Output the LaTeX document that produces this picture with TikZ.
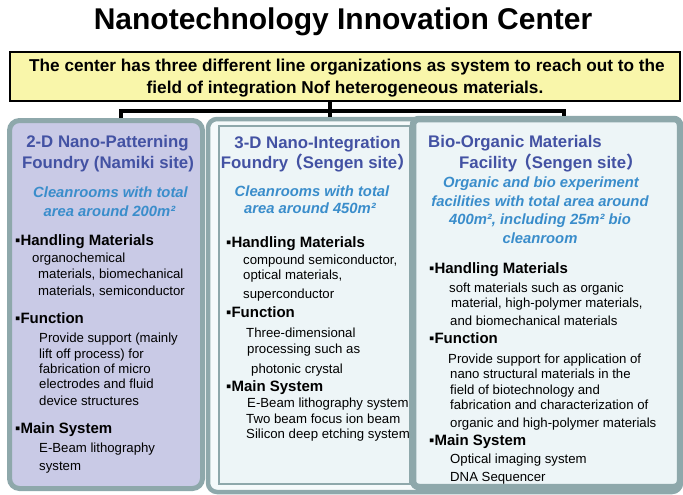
\documentclass[tikz,border=0pt]{standalone}
\usepackage{fontspec}
\setmainfont{Liberation Sans}
\newfontfamily\cjk{Noto Sans CJK JP}
\definecolor{teal}{HTML}{8EA8AB}
\definecolor{lav}{HTML}{C9CAE6}
\definecolor{lite}{HTML}{EDF5F7}
\definecolor{outfill}{HTML}{F5FAFB}
\definecolor{hblue}{HTML}{4352A3}
\definecolor{iblue}{HTML}{3A8DCB}
\definecolor{yel}{HTML}{F9F6AA}
\begin{document}
\begin{tikzpicture}[x=1pt,y=-1pt,
  titletext/.style={anchor=base,inner sep=0,font=\bfseries\fontsize{30}{33}\selectfont},
  introtext/.style={anchor=base,inner sep=0,font=\bfseries\fontsize{17.2}{20}\selectfont},
  head/.style={anchor=base,inner sep=0,text=hblue,font=\bfseries\fontsize{16.8}{20}\selectfont},
  headw/.style={head,anchor=base west},
  area/.style={anchor=base,inner sep=0,text=iblue,font=\bfseries\itshape\fontsize{14.8}{18}\selectfont},
  sec/.style={anchor=base west,inner sep=0,font=\bfseries\fontsize{15}{18}\selectfont},
  body/.style={anchor=base west,inner sep=0,font=\fontsize{13.2}{16}\selectfont},
  bus/.style={draw=black,line width=4pt},
  panel/.style={rectangle,draw=teal,inner sep=0}
]
\useasboundingbox (0,0) rectangle (683,495);

\node[titletext] (title) at (343,30) {Nanotechnology Innovation Center};

\node[rectangle,draw=black,line width=2.5pt,fill=yel,minimum width=670pt,minimum height=49pt,inner sep=0] (intro) at (345,76.5) {};
\node[introtext] (it1) at (347,72) {The center has three different line organizations as system to reach out to the};
\node[introtext] (it2) at (345,93) {field of integration Nof heterogeneous materials.};

% panels
\node[panel,line width=5pt,fill=lav,rounded corners=10pt,minimum width=193pt,minimum height=368pt] (leftp) at (106,304.5) {};
\node[panel,line width=4.5pt,fill=outfill,rounded corners=9pt,minimum width=473pt,minimum height=373pt] (outerp) at (444.5,305.5) {};
\node[panel,line width=1.5pt,fill=lite,minimum width=191pt,minimum height=358pt] (midp) at (314.5,305) {};
\node[panel,line width=6.5pt,fill=lite,rounded corners=6pt,minimum width=267pt,minimum height=368pt] (rightp) at (546.5,303) {};

% connectors
\coordinate (jl) at (121,111);
\coordinate (jm) at (330,111);
\coordinate (jr) at (564,111);
\draw[bus] (intro.south -| jm) -- (jm |- outerp.north);
\draw[bus] (jl |- leftp.north) -- (jl) -- (jr) -- (jr |- rightp.north);

% left panel
\node[head] (lt1) at (107.5,147.5) {2-D Nano-Patterning};
\node[head] (lt2) at (108,168) {Foundry (Namiki site)};
\node[area] (la1) at (110.5,197) {Cleanrooms with total};
\node[area] (la2) at (109.5,216) {area around 200m²};
\node[sec] (ls1) at (15,245) {▪Handling Materials};
\node[body] (lb1) at (32,262) {organochemical};
\node[body] (lb2) at (38,278) {materials, biomechanical};
\node[body] (lb3) at (38,295) {materials, semiconductor};
\node[sec] (ls2) at (15,323) {▪Function};
\node[body] (lb4) at (39,342) {Provide support (mainly};
\node[body] (lb5) at (39,358) {lift off process) for};
\node[body] (lb6) at (39,373) {fabrication of micro};
\node[body] (lb7) at (39,388) {electrodes and fluid};
\node[body] (lb8) at (39,405) {device structures};
\node[sec] (ls3) at (15,433) {▪Main System};
\node[body] (lb9) at (39,452) {E-Beam lithography};
\node[body] (lb10) at (39,470) {system};

% middle panel
\node[head] (mt1) at (317.5,148) {3-D Nano-Integration};
\node[head] (mt2) at (317.5,168) {Foundry\kern-2pt{\cjk（}Sengen site{\cjk）}};
\node[area] (ma1) at (312,196) {Cleanrooms with total};
\node[area] (ma2) at (310,213) {area around 450m²};
\node[sec] (ms1) at (226,247) {▪Handling Materials};
\node[body] (mb1) at (243,264) {compound semiconductor,};
\node[body] (mb2) at (243,279) {optical materials,};
\node[body] (mb3) at (243,298) {superconductor};
\node[sec] (ms2) at (226,317) {▪Function};
\node[body] (mb4) at (246,337) {Three-dimensional};
\node[body] (mb5) at (247,353) {processing such as};
\node[body] (mb6) at (251,373) {photonic crystal};
\node[sec] (ms3) at (226,391) {▪Main System};
\node[body] (mb7) at (247,407) {E-Beam lithography system};
\node[body] (mb8) at (246,423) {Two beam focus ion beam};
\node[body] (mb9) at (246,438) {Silicon deep etching system};

% right panel
\node[headw] (rt1) at (428,147) {Bio-Organic Materials};
\node[headw] (rt2) at (459,168) {Facility\kern-2pt{\cjk（}Sengen site{\cjk）}};
\node[area] (ra1) at (541,187) {Organic and bio experiment};
\node[area] (ra2) at (540,206) {facilities with total area around};
\node[area] (ra3) at (540,224) {400m², including 25m² bio};
\node[area] (ra4) at (540,243) {cleanroom};
\node[sec] (rs1) at (429,273) {▪Handling Materials};
\node[body] (rb1) at (449,292) {soft materials such as organic};
\node[body] (rb2) at (451,307) {material, high-polymer materials,};
\node[body] (rb3) at (450,325) {and biomechanical materials};
\node[sec] (rs2) at (429,343) {▪Function};
\node[body] (rb4) at (448,363) {Provide support for application of};
\node[body] (rb5) at (450,378) {nano structural materials in the};
\node[body] (rb6) at (450,394) {field of biotechnology and};
\node[body] (rb7) at (450,409) {fabrication and characterization of};
\node[body] (rb8) at (450,427) {organic and high-polymer materials};
\node[sec] (rs3) at (429,445) {▪Main System};
\node[body] (rb9) at (450,463) {Optical imaging system};
\node[body] (rb10) at (450,481) {DNA Sequencer};
\end{tikzpicture}
\end{document}
